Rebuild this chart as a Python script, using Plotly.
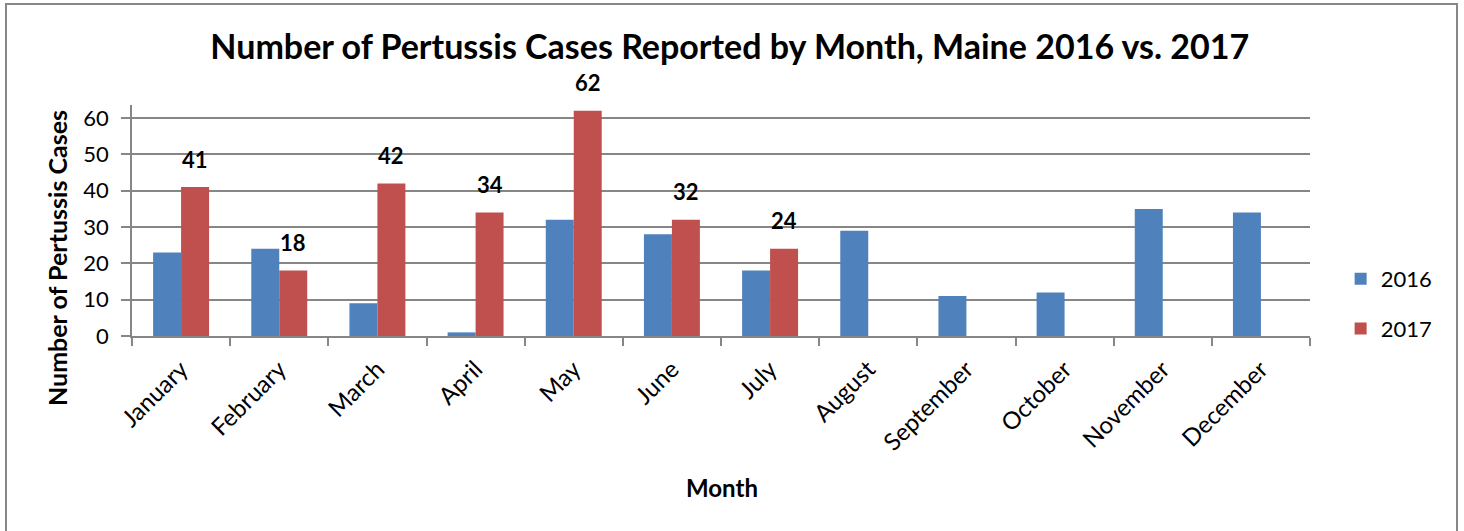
import plotly.graph_objects as go

months = ["January", "February", "March", "April", "May", "June", "July",
          "August", "September", "October", "November", "December"]
cases_2016 = [23, 24, 9, 1, 32, 28, 18, 29, 11, 12, 35, 34]
cases_2017 = [41, 18, 42, 34, 62, 32, 24, None, None, None, None, None]

FONT = "Lato"
GRID = "#868686"

fig = go.Figure()
fig.add_trace(go.Bar(x=months, y=cases_2016, name="2016", marker_color="#4F81BD",
                     marker_line_width=0, legendgroup="a"))
fig.add_trace(go.Bar(x=months, y=cases_2017, name="2017", marker_color="#C0504D",
                     marker_line_width=0, legendgroup="b"))

for m, v in zip(months, cases_2017):
    if v is not None:
        fig.add_annotation(x=m, y=v, text=f"<b>{v}</b>", showarrow=False,
                           xshift=14, yshift=28, yanchor="middle",
                           font=dict(family=FONT, size=22, color="black"))

# axis titles placed as annotations (Excel-style positions)
fig.add_annotation(text="<b>Month</b>", xref="paper", yref="paper",
                   x=(722 - 132) / 1178, y=(336 - 487) / 231,
                   xanchor="center", yanchor="middle", showarrow=False,
                   font=dict(family=FONT, size=24, color="black"))
fig.add_annotation(text="<b>Number of Pertussis Cases</b>", xref="paper", yref="paper",
                   x=(57 - 132) / 1178, y=(336 - 258) / 231, textangle=-90,
                   xanchor="center", yanchor="middle", showarrow=False,
                   font=dict(family=FONT, size=25, color="black"))

fig.update_layout(
    width=1464, height=531,
    margin=dict(l=132, r=154, t=105, b=195),
    paper_bgcolor="white", plot_bgcolor="white",
    barmode="group", bargap=0.43, bargroupgap=0,
    font=dict(family=FONT, color="black"),
    title=dict(text="<b>Number of Pertussis Cases Reported by Month, Maine 2016 vs. 2017</b>",
               x=0.4985, xanchor="center", y=0.912, yanchor="middle",
               font=dict(family=FONT, size=34, color="black")),
    legend=dict(x=1.026, xanchor="left", y=0.1385, yanchor="middle",
                traceorder="grouped", tracegroupgap=18,
                font=dict(family=FONT, size=22, color="black"),
                bgcolor="rgba(0,0,0,0)"),
    showlegend=True,
    xaxis=dict(
        type="category", tickangle=-45, tickson="boundaries",
        ticks="outside", ticklen=8, tickcolor=GRID, tickwidth=1.5,
        showline=True, linecolor=GRID, linewidth=1.5,
        showgrid=False, ticklabelstandoff=8,
        tickfont=dict(family=FONT, size=24, color="black"),
    ),
    yaxis=dict(
        range=[0, 63.6], tickvals=[0, 10, 20, 30, 40, 50, 60],
        ticks="outside", ticklen=9, tickcolor=GRID, tickwidth=1.5,
        showline=True, linecolor=GRID, linewidth=1.5,
        showgrid=True, gridcolor=GRID, gridwidth=1.5,
        zeroline=False, ticklabelstandoff=8,
        tickfont=dict(family=FONT, size=22, color="black"),
    ),
)

# outer chart border
fig.add_shape(type="rect", xref="paper", yref="paper",
              x0=(6 - 132) / 1178, x1=(1457 - 132) / 1178,
              y0=(336 - 560) / 231, y1=(336 - 4) / 231,
              line=dict(color="#878787", width=2), fillcolor="rgba(0,0,0,0)", layer="below")

fig.write_html("out.html", config={"displayModeBar": False},
               post_script="document.body.style.margin='0px';")
